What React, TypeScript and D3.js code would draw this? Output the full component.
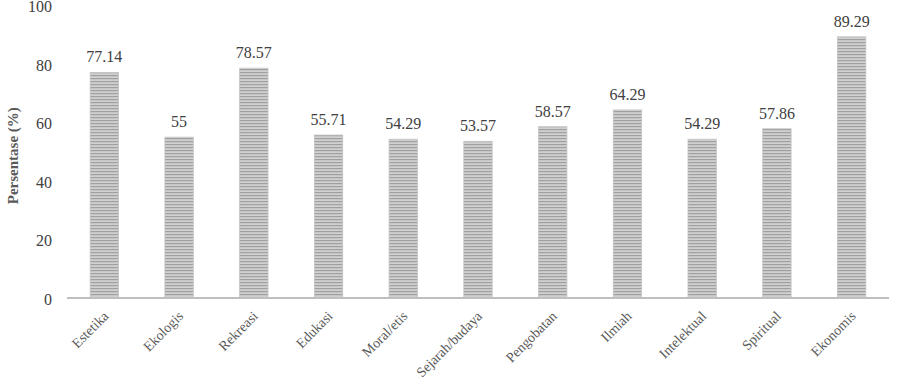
import React from "react";
import * as d3 from "d3";

const categories = ["Estetika", "Ekologis", "Rekreasi", "Edukasi", "Moral/etis", "Sejarah/budaya", "Pengobatan", "Ilmiah", "Intelektual", "Spiritual", "Ekonomis"];
const values = [77.14, 55, 78.57, 55.71, 54.29, 53.57, 58.57, 64.29, 54.29, 57.86, 89.29];
const valueLabels = ["77.14", "55", "78.57", "55.71", "54.29", "53.57", "58.57", "64.29", "54.29", "57.86", "89.29"];
const yTicks = [0, 20, 40, 60, 80, 100];

const W = 904, H = 379;
const left = 67, right = 889, top = 5.5, bottom = 298;
const font = "Liberation Serif";

export default function App() {
  const x = d3.scaleBand<string>().domain(categories).range([left, right]).paddingInner(0.62).paddingOuter(0.31);
  const y = d3.scaleLinear().domain([0, 100]).range([bottom, top]);
  return (
    <svg width={W} height={H} style={{ position: "absolute", left: 0, top: 0 }}>
      <defs>
        <pattern id="stripe" width="4" height="3" patternUnits="userSpaceOnUse">
          <rect width="4" height="3" fill="#d0d0d0" />
          <rect y="0" width="4" height="1.2" fill="#a0a0a0" />
        </pattern>
      </defs>
      <rect width={W} height={H} fill="#fff" />
      {yTicks.map((t) => (
        <text key={t} x={52} y={y(t) + 1} dy="0.35em" textAnchor="end" fontFamily={font} fontSize={16} fill="#404040">{t}</text>
      ))}
      <text transform={`translate(18,${(top + bottom) / 2 + 4}) rotate(-90)`} textAnchor="middle" fontFamily={font} fontSize={15} fontWeight="bold" fill="#595959">Persentase (%)</text>
      {categories.map((c, i) => (
        <g key={c}>
          <rect x={x(c)} y={y(values[i])} width={x.bandwidth()} height={bottom - y(values[i])} fill="url(#stripe)" stroke="#c4c4c4" strokeWidth={0.8} />
          <text x={(x(c) as number) + x.bandwidth() / 2} y={y(values[i]) - 10} textAnchor="middle" fontFamily={font} fontSize={16} fill="#404040">{valueLabels[i]}</text>
          <text transform={`translate(${(x(c) as number) + x.bandwidth() / 2 + 5},${bottom + 19}) rotate(-45)`} textAnchor="end" fontFamily={font} fontSize={14} fill="#595959">{c}</text>
        </g>
      ))}
      <line x1={left} x2={right} y1={bottom} y2={bottom} stroke="#bfbfbf" strokeWidth={2} />
    </svg>
  );
}
